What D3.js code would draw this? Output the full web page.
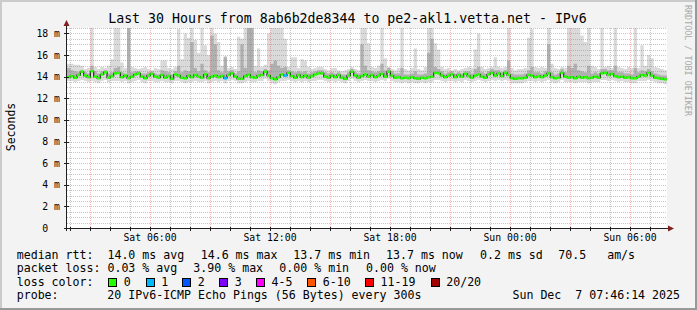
<!DOCTYPE html>
<html>
<head>
<meta charset="utf-8">
<script src="https://cdn.jsdelivr.net/npm/d3@7"></script>
<style>
html, body { margin: 0; padding: 0; background: #f3f3f3; }
svg { display: block; font-family: "DejaVu Sans Mono", monospace; }
text { white-space: pre; }
</style>
</head>
<body>
<div id="chart"></div>
<script>
// 30時間分、10分ごとのビン (01:51 UTC 開始)
const startTime = Date.UTC(2025, 11, 6, 1, 51);
const spanHours = 30;
const binMinutes = 10;

// median rtt (ms)
const median = [
  13.95, 14.05, 13.9, 14.15, 14.45, 14.1, 13.95, 14.5, 14.0, 13.85,
  14.2, 14.4, 13.9, 14.05, 14.3, 14.35, 13.95, 14.1, 13.85, 14.0,
  14.2, 14.3, 14.0, 13.85, 14.1, 14.25, 14.0, 13.9, 14.15, 13.9,
  14.05, 13.8, 14.2, 14.1, 13.9, 13.85, 14.1, 13.95, 14.15, 14.0,
  13.9, 14.2, 13.85, 14.0, 14.1, 13.95, 14.05, 13.85, 14.15, 14.3,
  14.0, 13.8, 13.8, 14.05, 14.2, 13.95, 13.9, 14.1, 14.15, 14.45,
  14.1, 13.85, 13.75, 13.95, 14.2, 14.1, 14.35, 14.05, 13.9, 14.15,
  13.95, 14.1, 13.9, 14.05, 14.2, 14.3, 14.3, 14.0, 13.9, 14.1,
  13.95, 14.15, 13.9, 13.8, 14.1, 14.45, 14.1, 13.9, 14.05, 14.2,
  14.0, 14.15, 13.95, 14.1, 14.25, 14.0, 14.45, 14.1, 13.9, 13.95,
  13.85, 13.9, 13.85, 13.95, 13.85, 13.8, 13.9, 13.85, 13.95, 14.0,
  14.35, 14.3, 14.1, 13.95, 14.1, 14.2, 13.95, 14.15, 14.0, 14.25,
  14.05, 13.9, 14.1, 14.2, 14.0, 13.9, 14.2, 14.35, 14.1, 14.3,
  14.05, 14.35, 14.15, 13.85, 13.8, 13.85, 13.85, 13.9, 14.15, 14.1,
  13.95, 14.05, 13.95, 14.1, 14.3, 13.95, 13.85, 13.9, 14.35, 14.0,
  13.9, 13.95, 13.85, 14.0, 13.9, 13.95, 13.85, 13.9, 14.0, 13.9,
  14.3, 14.35, 14.15, 14.25, 14.05, 13.95, 14.0, 13.9, 13.95, 13.85,
  13.85, 14.0, 14.15, 14.1, 14.35, 14.1, 13.9, 13.85, 13.8, 13.75
];

// smoke 上端 (最大ping, ms)
const smokeHi = [
  15.2, 15.2, 15.1, 15.1, 15.0, 14.7, 14.8, 18.5, 14.9, 14.7,
  14.9, 14.8, 15.0, 15.6, 18.5, 18.5, 15.3, 14.8, 18.5, 14.9,
  14.8, 14.7, 14.8, 14.9, 14.7, 14.6, 14.8, 14.7, 15.5, 15.5,
  14.8, 14.7, 14.9, 18.4, 15.6, 18.0, 17.6, 18.5, 17.4, 16.2,
  18.5, 16.9, 16.0, 18.5, 18.0, 17.2, 15.0, 15.9, 14.8, 14.9,
  14.7, 17.7, 17.5, 18.5, 18.5, 18.5, 15.0, 16.6, 14.9, 15.1,
  18.0, 18.5, 18.5, 18.5, 18.5, 17.5, 14.9, 15.8, 15.8, 14.8,
  15.6, 15.5, 14.9, 14.7, 14.8, 14.9, 14.9, 14.7, 14.6, 14.8,
  14.8, 14.6, 14.5, 14.6, 14.7, 14.9, 14.7, 14.6, 18.5, 18.5,
  17.1, 14.9, 14.8, 15.0, 18.5, 15.7, 14.9, 14.7, 14.6, 14.8,
  18.5, 14.7, 14.6, 14.8, 16.6, 14.7, 14.6, 14.9, 18.5, 18.5,
  17.1, 16.5, 14.9, 14.7, 14.8, 14.6, 14.7, 14.6, 14.7, 14.8,
  14.9, 14.8, 16.5, 18.0, 14.9, 14.7, 14.8, 14.9, 15.8, 14.9,
  14.8, 14.9, 18.5, 14.8, 14.6, 14.7, 14.7, 14.8, 17.6, 18.4,
  14.9, 14.8, 14.9, 14.8, 18.5, 15.2, 14.8, 14.7, 14.9, 14.8,
  18.5, 18.5, 18.5, 18.5, 17.8, 17.2, 18.5, 15.0, 14.9, 14.7,
  18.5, 14.9, 15.0, 14.8, 18.5, 14.9, 14.8, 14.7, 14.9, 14.8,
  18.5, 14.8, 16.9, 15.0, 16.0, 15.7, 14.9, 14.8, 14.7, 14.6
];

// 濃いsmokeの上端 (ms)
const smokeMid = [
  14.8, 14.6, 14.5, 14.4, 14.6, 14.4, 14.3, 15.0, 14.5, 14.3,
  14.5, 14.6, 14.3, 14.4, 14.8, 14.9, 14.4, 14.3, 18.5, 14.4,
  14.5, 14.5, 14.3, 14.3, 14.4, 14.5, 14.3, 14.2, 14.6, 14.5,
  14.4, 14.2, 14.5, 15.0, 14.4, 14.6, 14.5, 17.2, 14.8, 14.5,
  15.2, 14.6, 14.4, 17.8, 17.0, 14.6, 14.4, 15.8, 14.5, 14.6,
  14.3, 14.5, 17.0, 14.8, 18.5, 18.5, 14.4, 14.6, 14.5, 14.7,
  14.6, 15.2, 15.5, 15.0, 14.8, 14.9, 14.6, 14.5, 14.4, 14.5,
  14.4, 14.5, 14.3, 14.4, 14.5, 14.6, 14.6, 14.4, 14.3, 14.4,
  14.3, 14.4, 14.2, 14.2, 14.4, 14.7, 14.4, 14.3, 17.0, 15.0,
  14.6, 14.5, 14.4, 14.5, 15.2, 14.6, 14.8, 14.5, 14.3, 14.3,
  14.8, 14.2, 14.2, 14.3, 14.5, 14.2, 14.2, 14.3, 16.2, 17.5,
  14.9, 14.7, 14.5, 14.3, 14.4, 14.5, 14.3, 14.4, 14.3, 14.5,
  14.5, 14.3, 14.7, 14.9, 14.4, 14.3, 14.5, 14.7, 14.6, 14.6,
  14.4, 14.6, 15.5, 14.3, 14.2, 14.2, 14.2, 14.3, 14.6, 14.9,
  14.4, 14.4, 14.3, 14.5, 17.0, 14.4, 14.2, 14.3, 14.7, 14.4,
  15.0, 14.8, 15.2, 14.6, 14.5, 14.4, 15.0, 14.3, 14.4, 14.3,
  14.7, 14.7, 14.6, 14.6, 15.0, 14.4, 14.4, 14.3, 14.3, 14.2,
  14.8, 14.4, 14.6, 14.5, 14.7, 14.5, 14.3, 14.2, 14.1, 14.1
];

// smoke 下端 (最小ping, ms)
const smokeLo = [
  13.6, 13.6, 13.5, 13.6, 13.7, 13.6, 13.5, 13.6, 13.5, 13.4,
  13.6, 13.7, 13.5, 13.6, 13.6, 13.6, 13.5, 13.6, 13.4, 13.5,
  13.6, 13.7, 13.5, 13.4, 13.6, 13.6, 13.5, 13.5, 13.6, 13.5,
  13.5, 13.4, 13.6, 13.6, 13.5, 13.4, 13.5, 13.5, 13.6, 13.5,
  13.5, 13.6, 13.4, 13.5, 13.6, 13.5, 13.6, 13.4, 13.6, 13.7,
  13.6, 13.4, 13.4, 13.5, 13.6, 13.5, 13.5, 13.6, 13.6, 13.8,
  13.6, 13.4, 13.3, 13.5, 13.6, 13.6, 13.7, 13.6, 13.5, 13.6,
  13.5, 13.6, 13.5, 13.6, 13.6, 13.7, 13.7, 13.6, 13.5, 13.6,
  13.5, 13.6, 13.5, 13.4, 13.6, 13.8, 13.6, 13.5, 13.6, 13.7,
  13.6, 13.6, 13.5, 13.6, 13.7, 13.6, 13.8, 13.6, 13.5, 13.5,
  13.4, 13.5, 13.4, 13.5, 13.4, 13.4, 13.5, 13.4, 13.5, 13.5,
  13.7, 13.7, 13.6, 13.5, 13.6, 13.6, 13.5, 13.6, 13.5, 13.7,
  13.6, 13.5, 13.6, 13.7, 13.6, 13.5, 13.6, 13.7, 13.6, 13.7,
  13.6, 13.7, 13.6, 13.4, 13.4, 13.4, 13.4, 13.5, 13.6, 13.6,
  13.5, 13.6, 13.5, 13.6, 13.7, 13.5, 13.4, 13.5, 13.7, 13.5,
  13.5, 13.5, 13.4, 13.5, 13.5, 13.5, 13.4, 13.5, 13.5, 13.5,
  13.7, 13.7, 13.6, 13.7, 13.6, 13.5, 13.6, 13.5, 13.5, 13.4,
  13.4, 13.6, 13.6, 13.6, 13.7, 13.6, 13.5, 13.4, 13.4, 13.3
];

// 損失数 (20ping中)
const lossCount = [
  0, 0, 0, 0, 0, 0, 0, 0, 0, 0,
  0, 0, 0, 0, 0, 0, 0, 0, 0, 0,
  0, 0, 0, 0, 0, 0, 0, 0, 0, 0,
  0, 0, 0, 0, 0, 0, 0, 0, 0, 0,
  0, 0, 0, 0, 0, 0, 0, 1, 0, 0,
  0, 0, 0, 0, 0, 0, 0, 0, 0, 0,
  0, 0, 0, 0, 0, 1, 0, 0, 0, 0,
  0, 0, 0, 0, 0, 0, 0, 0, 0, 0,
  0, 0, 0, 0, 0, 0, 0, 0, 0, 0,
  0, 0, 0, 0, 0, 0, 0, 0, 0, 0,
  0, 0, 0, 0, 0, 0, 0, 0, 0, 0,
  0, 0, 0, 0, 0, 0, 0, 0, 0, 0,
  0, 0, 0, 0, 0, 0, 0, 0, 0, 0,
  0, 0, 0, 0, 0, 0, 0, 0, 0, 0,
  0, 0, 0, 0, 0, 0, 0, 0, 0, 0,
  0, 0, 0, 0, 0, 0, 0, 0, 0, 0,
  0, 0, 0, 0, 0, 0, 0, 0, 0, 0,
  0, 0, 0, 0, 0, 0, 0, 0, 0, 0
];

const yMax = 18.5;
const yTickValues = [0, 2, 4, 6, 8, 10, 12, 14, 16, 18];
const xTickTimes = ["2025-12-06T06:00Z", "2025-12-06T12:00Z", "2025-12-06T18:00Z", "2025-12-07T00:00Z", "2025-12-07T06:00Z"];

const lossLabels = ["0", "1", "2", "3", "4-5", "6-10", "11-19", "20/20"];
const lossColors = ["#26ff00", "#00b8ff", "#0059ff", "#7e00ff", "#ff00ff", "#ff5500", "#ff0000", "#a10000"];

const titleText = "Last 30 Hours from 8ab6b2de8344 to pe2-akl1.vetta.net - IPv6";
const rttItems = ["median rtt:  14.0 ms avg", "14.6 ms max", "13.7 ms min", "13.7 ms now", "0.2 ms sd", "70.5   am/s"];
const lossItems = ["packet loss: 0.03 % avg", "3.90 % max", "0.00 % min", "0.00 % now"];
const probeText = "20 IPv6-ICMP Echo Pings (56 Bytes) every 300s";
const stampText = "Sun Dec  7 07:46:14 2025";

// レイアウト
const W = 697, H = 310;
const plot = {left: 67, right: 667, top: 28, bottom: 228};

const svg = d3.select("#chart").append("svg")
  .attr("width", W)
  .attr("height", H);

// 背景とフレーム
svg.append("rect").attr("width", W).attr("height", H).attr("fill", "#f3f3f3");
svg.append("rect").attr("x", 0).attr("y", 0).attr("width", W).attr("height", 2).attr("fill", "#cbcbcb");
svg.append("rect").attr("x", 0).attr("y", 0).attr("width", 2).attr("height", H).attr("fill", "#cbcbcb");
svg.append("rect").attr("x", 0).attr("y", H - 2).attr("width", W).attr("height", 2).attr("fill", "#999");
svg.append("rect").attr("x", W - 2).attr("y", 0).attr("width", 2).attr("height", H).attr("fill", "#999");

svg.append("rect")
  .attr("x", plot.left).attr("y", plot.top)
  .attr("width", plot.right - plot.left).attr("height", plot.bottom - plot.top)
  .attr("fill", "#fff");

// スケール
const t0 = new Date(startTime);
const t1 = new Date(startTime + spanHours * 3600e3);
const x = d3.scaleUtc().domain([t0, t1]).range([plot.left, plot.right]);
const y = d3.scaleLinear().domain([0, yMax]).range([plot.bottom, plot.top]);

const bins = median.map((m, i) => ({
  t: new Date(startTime + i * binMinutes * 60e3),
  t2: new Date(startTime + (i + 1) * binMinutes * 60e3),
  med: m, hi: smokeHi[i], mid: smokeMid[i], lo: smokeLo[i], loss: lossCount[i]
}));
// ステップの最後の端
const stepData = bins.concat([{...bins[bins.length - 1], t: t1}]);

const g = svg.append("g");

// smoke
g.append("path")
  .datum(stepData)
  .attr("fill", "#dadada")
  .attr("d", d3.area().curve(d3.curveStepAfter)
    .x(d => x(d.t)).y0(d => y(d.lo)).y1(d => y(d.hi)));

g.append("path")
  .datum(stepData)
  .attr("fill", "#b0b0b0")
  .attr("d", d3.area().curve(d3.curveStepAfter)
    .x(d => x(d.t)).y0(d => y(d.med)).y1(d => y(d.mid)));

// グリッド
const grid = svg.append("g").attr("shape-rendering", "crispEdges");
const snap = v => Math.round(v) + 0.5;
const gridMinor = "rgba(140,140,140,0.5)";
const gridMajor = "rgba(235,80,80,0.42)";

d3.range(0.5, yMax + 0.01, 0.5).forEach(v => {
  const major = v % 2 === 0;
  grid.append("line")
    .attr("x1", plot.left).attr("x2", plot.right)
    .attr("y1", snap(y(v))).attr("y2", snap(y(v)))
    .attr("stroke", major ? gridMajor : gridMinor)
    .attr("stroke-dasharray", "1,1");
});

x.ticks(d3.utcHour.every(1)).forEach(t => {
  const major = t.getUTCHours() % 3 === 0;
  grid.append("line")
    .attr("x1", snap(x(t))).attr("x2", snap(x(t)))
    .attr("y1", plot.top).attr("y2", plot.bottom)
    .attr("stroke", major ? gridMajor : gridMinor)
    .attr("stroke-dasharray", "1,1");
});

// median ライン (黒) と loss色の帯
svg.append("path")
  .datum(stepData)
  .attr("fill", "none")
  .attr("stroke", "#202020")
  .attr("stroke-width", 1.2)
  .attr("d", d3.line().curve(d3.curveStepAfter).x(d => x(d.t)).y(d => y(d.med)));

const lossIndex = n => n === 0 ? 0 : n <= 3 ? n : n <= 5 ? 4 : n <= 10 ? 5 : n <= 19 ? 6 : 7;

svg.append("g").selectAll("rect")
  .data(bins)
  .enter()
  .append("rect")
  .attr("x", d => x(d.t))
  .attr("width", d => x(d.t2) - x(d.t))
  .attr("y", d => y(d.med) - 1.25)
  .attr("height", 2.5)
  .attr("fill", d => lossColors[lossIndex(d.loss)]);

// 軸
const axis = svg.append("g").attr("shape-rendering", "crispEdges");
axis.append("line")
  .attr("x1", plot.left - 3).attr("x2", plot.right + 2)
  .attr("y1", plot.bottom + 0.5).attr("y2", plot.bottom + 0.5)
  .attr("stroke", "#202020");
axis.append("line")
  .attr("x1", plot.left - 0.5).attr("x2", plot.left - 0.5)
  .attr("y1", plot.bottom + 3).attr("y2", plot.top - 2)
  .attr("stroke", "#202020");
svg.append("path")
  .attr("d", `M${plot.right + 1},${plot.bottom - 2.5}L${plot.right + 7},${plot.bottom + 0.5}L${plot.right + 1},${plot.bottom + 3.5}Z`)
  .attr("fill", "#802020");
svg.append("path")
  .attr("d", `M${plot.left - 3.5},${plot.top - 2}L${plot.left - 0.5},${plot.top - 8}L${plot.left + 2.5},${plot.top - 2}Z`)
  .attr("fill", "#802020");

// 軸の小さな目盛り
yTickValues.forEach(v => {
  axis.append("line")
    .attr("x1", plot.left - 3).attr("x2", plot.left + 2)
    .attr("y1", snap(y(v))).attr("y2", snap(y(v)))
    .attr("stroke", "#202020");
});
x.ticks(d3.utcHour.every(1)).forEach(t => {
  axis.append("line")
    .attr("x1", snap(x(t))).attr("x2", snap(x(t)))
    .attr("y1", plot.bottom - 1).attr("y2", plot.bottom + 3)
    .attr("stroke", "#202020");
});

// Y 軸ラベル
const charW = 5.9;
svg.append("g").selectAll("text")
  .data(yTickValues)
  .enter()
  .append("text")
  .attr("x", d => d === 0 ? 60 - 2 * charW : 60)
  .attr("y", d => y(d))
  .attr("dy", "0.36em")
  .attr("text-anchor", "end")
  .style("font-size", "9.8px")
  .attr("fill", "#000")
  .text(d => d === 0 ? "0" : `${d} m`);

// X 軸ラベル
const fmt = d3.utcFormat("%a %H:%M");
svg.append("g").selectAll("text")
  .data(xTickTimes.map(s => new Date(s)))
  .enter()
  .append("text")
  .attr("x", d => x(d))
  .attr("y", 241)
  .attr("text-anchor", "middle")
  .style("font-size", "9.8px")
  .attr("fill", "#000")
  .text(d => fmt(d));

// タイトル
svg.append("text")
  .attr("x", 347.5).attr("y", 23)
  .attr("text-anchor", "middle")
  .style("font-size", "13.25px")
  .text(titleText);

// 縦ラベル
svg.append("text")
  .attr("transform", "translate(15,127) rotate(-90)")
  .attr("text-anchor", "middle")
  .style("font-size", "11.5px")
  .text("Seconds");

svg.append("text")
  .attr("transform", "translate(685,5) rotate(90)")
  .style("font-size", "8.4px")
  .attr("fill", "#a8a8a8")
  .text("RRDTOOL / TOBI OETIKER");

// 凡例
const legendFont = "11.6px";
const lineY = [258.5, 272, 285.5, 299];
const rttX = [16.7, 200.7, 293.3, 386, 480, 558.3];
const lossX = [16.7, 193.3, 279.3, 366];
const boxX = [108.3, 145.7, 182.3, 219.3, 256, 307.3, 365, 430.7];

const legend = svg.append("g").style("font-size", legendFont).attr("fill", "#000");

rttItems.forEach((s, i) => {
  legend.append("text").attr("x", rttX[i]).attr("y", lineY[0]).text(s);
});
lossItems.forEach((s, i) => {
  legend.append("text").attr("x", lossX[i]).attr("y", lineY[1]).text(s);
});
legend.append("text").attr("x", 16.7).attr("y", lineY[2]).text("loss color:");
lossLabels.forEach((s, i) => {
  legend.append("rect")
    .attr("x", boxX[i] + 0.5).attr("y", lineY[2] - 7.5)
    .attr("width", 8).attr("height", 8)
    .attr("fill", lossColors[i])
    .attr("stroke", "#000")
    .attr("shape-rendering", "crispEdges");
  legend.append("text").attr("x", boxX[i] + 15.5).attr("y", lineY[2]).text(s);
});
legend.append("text").attr("x", 16.7).attr("y", lineY[3]).text("probe:");
legend.append("text").attr("x", 107.3).attr("y", lineY[3]).text(probeText);
legend.append("text").attr("x", 680).attr("y", lineY[3]).attr("text-anchor", "end").text(stampText);
</script>
</body>
</html>
